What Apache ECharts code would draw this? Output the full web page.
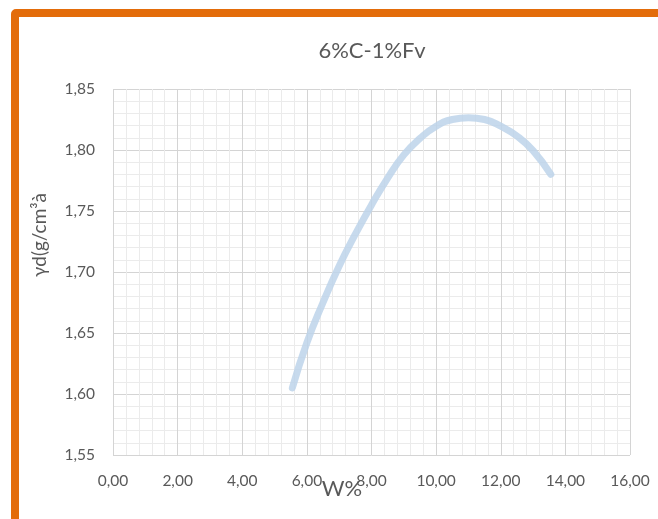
<!DOCTYPE html>
<html>
<head>
<meta charset="utf-8">
<script src="https://cdn.jsdelivr.net/npm/echarts@6/dist/echarts.min.js"></script>
<style>
  html, body { margin: 0; padding: 0; background: #fff; overflow: hidden; }
  #chart { position: absolute; left: 0; top: 0; width: 658px; height: 519px; }
  #frame { position: absolute; left: 11px; top: 9px; width: 700px; height: 600px;
           border: 8px solid #E36C0A; border-radius: 5px; pointer-events: none; box-sizing: border-box; }
</style>
</head>
<body>
<div id="chart"></div>
<div id="frame"></div>
<script>
// Data
const titleText = '6%C-1%Fv';
const xName = 'W%';
const yName = 'γd(g/cm³à';
const wValues     = [5.55, 6.00, 6.50, 7.00, 7.50, 8.00, 8.50, 9.00, 9.50, 10.00, 10.50, 11.00, 11.50, 12.00, 12.50, 13.00, 13.55];
const gammaValues = [1.605, 1.642, 1.675, 1.705, 1.731, 1.755, 1.777, 1.796, 1.8095, 1.8195, 1.825, 1.8265, 1.825, 1.8195, 1.8115, 1.7995, 1.780];
const xTicks = [0, 2, 4, 6, 8, 10, 12, 14, 16];
const yTicks = [1.55, 1.60, 1.65, 1.70, 1.75, 1.80, 1.85];

const seriesData = wValues.map((w, i) => [w, gammaValues[i]]);
const fmt = v => v.toFixed(2).replace('.', ',');
const FONT = 'Lato';
const TXT = '#595959';

const chart = echarts.init(document.getElementById('chart'), null, { renderer: 'canvas' });
chart.setOption({
  backgroundColor: '#ffffff',
  animation: false,
  grid: { left: 113, right: 28, top: 89, bottom: 64, containLabel: false },
  xAxis: {
    type: 'value',
    min: xTicks[0], max: xTicks[xTicks.length - 1], interval: 2,
    axisLine: { show: false },
    axisTick: { show: false },
    axisLabel: { formatter: fmt, margin: 18, fontFamily: FONT, fontSize: 15.5, color: TXT },
    splitLine: { show: true, lineStyle: { color: '#d4d4d4', width: 1 } },
    minorTick: { show: false, splitNumber: 5 },
    minorSplitLine: { show: true, lineStyle: { color: '#ebebeb', width: 1 } }
  },
  yAxis: {
    type: 'value',
    min: yTicks[0], max: yTicks[yTicks.length - 1], interval: 0.05,
    axisLine: { show: false },
    axisTick: { show: false },
    axisLabel: { formatter: fmt, margin: 18, fontFamily: FONT, fontSize: 15.5, color: TXT },
    splitLine: { show: true, lineStyle: { color: '#d4d4d4', width: 1 } },
    minorTick: { show: false, splitNumber: 5 },
    minorSplitLine: { show: true, lineStyle: { color: '#ebebeb', width: 1 } }
  },
  graphic: [
    {
      type: 'text', x: 372, y: 51,
      style: { text: titleText, fontFamily: FONT, fontSize: 22, fill: TXT, align: 'center', verticalAlign: 'middle' },
      z: 10
    },
    {
      type: 'text', x: 40, y: 235, rotation: Math.PI / 2,
      style: { text: yName, fontFamily: FONT, fontSize: 19, fill: TXT, align: 'center', verticalAlign: 'middle' },
      z: 10
    },
    {
      type: 'text', x: 342, y: 489,
      style: { text: xName, fontFamily: FONT, fontSize: 22, fill: TXT, align: 'center', verticalAlign: 'middle' },
      z: 10
    }
  ],
  series: [{
    type: 'line',
    data: seriesData,
    smooth: true,
    showSymbol: false,
    lineStyle: { color: 'rgba(189,212,234,0.85)', width: 7, cap: 'round', join: 'round' },
    z: 5
  }]
});
</script>
</body>
</html>
